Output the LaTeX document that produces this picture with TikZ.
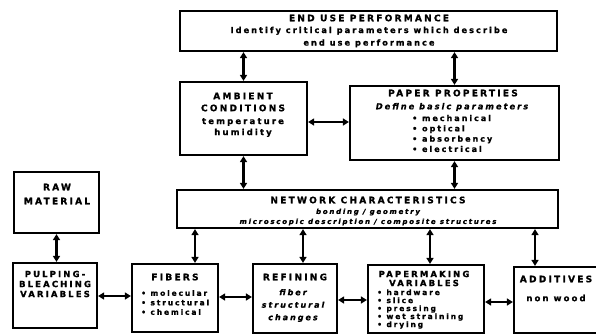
\documentclass[tikz,border=0pt]{standalone}
\usepackage{fontspec}
\setmainfont{DejaVu Sans}[LetterSpace=25, BoldFeatures={FakeBold=1.2}, BoldItalicFeatures={FakeBold=1.2}]
\usetikzlibrary{arrows.meta}
\begin{document}
\begin{tikzpicture}[x=1pt,y=-1pt,
  box/.style 2 args={draw, line width=2.2pt, inner sep=0pt, minimum width=#1pt, minimum height=#2pt},
  link/.style={{Triangle[length=6pt,width=7pt]}-{Triangle[length=6pt,width=7pt]}, line width=2.2pt},
  ttl/.style={font=\fontsize{9}{12}\selectfont\bfseries, align=center, inner sep=0pt},
  sb/.style={font=\fontsize{8.5}{11}\selectfont\bfseries, align=center, inner sep=0pt},
  si/.style={font=\fontsize{8.5}{11}\selectfont\bfseries\itshape, align=center, inner sep=0pt},
  lst/.style={font=\fontsize{7.5}{9.5}\selectfont\bfseries, align=left, anchor=west, inner sep=0pt}
]
\useasboundingbox (0,0) rectangle (596,335);
% boxes
\node[box={377}{40}] (top) at (368.5,31) {};
\node[box={127}{73}] (amb) at (243.5,118.5) {};
\node[box={209}{74}] (pap) at (454.5,123) {};
\node[box={381}{38}] (net) at (367.5,209) {};
\node[box={85}{61}] (raw) at (56.5,202.5) {};
\node[box={84}{65}] (pulp) at (55,295.5) {};
\node[box={86}{68}] (fib) at (175,298) {};
\node[box={84}{69}] (ref) at (295,298.5) {};
\node[box={116}{68}] (pm) at (426,299) {};
\node[box={96}{66}] (add) at (562,300) {};
% texts
\node[ttl, font=\fontsize{9}{12}\selectfont\bfseries] (t1) at (369,18) {END USE PERFORMANCE};
\node[sb, font=\fontsize{8.2}{12.5}\selectfont\bfseries] (t2) at (369,37) {Identify critical parameters which describe\\end use performance};
\node[ttl, font=\fontsize{9}{12}\selectfont\bfseries] (a1) at (243,102) {AMBIENT\\CONDITIONS};
\node[sb] (a2) at (243,127.5) {temperature\\humidity};
\node[ttl] (p1) at (453,93) {PAPER PROPERTIES};
\node[si, font=\fontsize{8.2}{11}\selectfont\bfseries\itshape] (p2) at (452,107) {Define basic parameters};
\node[lst, font=\fontsize{8}{10.3}\selectfont\bfseries] (p3) at (412,133.5) {• mechanical\\• optical\\• absorbency\\• electrical};
\node[ttl] (n1) at (368,200) {NETWORK CHARACTERISTICS};
\node[si, font=\fontsize{7}{10}\selectfont\bfseries\itshape] (n2) at (368,217) {bonding / geometry\\microscopic description / composite structures};
\node[ttl, font=\fontsize{9}{14}\selectfont\bfseries] (r1) at (57,194) {RAW\\MATERIAL};
\node[ttl, font=\fontsize{8.5}{10}\selectfont\bfseries] (u1) at (55,284) {PULPING-\\BLEACHING\\VARIABLES};
\node[ttl] (f1) at (175,277) {FIBERS};
\node[lst] (f2) at (141,302.5) {• molecular\\• structural\\• chemical};
\node[ttl] (e1) at (295,277) {REFINING};
\node[si, font=\fontsize{8}{12.5}\selectfont\bfseries\itshape] (e2) at (293,305.5) {fiber\\structural\\changes};
\node[ttl, font=\fontsize{8.5}{9}\selectfont\bfseries] (m1) at (424,278.5) {PAPERMAKING\\VARIABLES};
\node[lst, font=\fontsize{7.5}{8}\selectfont\bfseries] (m2) at (377,309) {• hardware\\• slice\\• pressing\\• wet straining\\• drying};
\node[ttl] (d1) at (556,279) {ADDITIVES};
\node[sb] (d2) at (556,298) {non wood};
% connectors
\draw[link] (amb.north) -- (amb.north |- top.south);
\draw[link] (pap.north) -- (pap.north |- top.south);
\draw[link] (amb.east |- 0,122) -- (pap.west |- 0,122);
\draw[link] (amb.south) -- (amb.south |- net.north);
\draw[link] (pap.south) -- (pap.south |- net.north);
\draw[link] (raw.south) -- (raw.south |- pulp.north);
\draw[link] (pulp.east |- 0,296) -- (fib.west |- 0,296);
\draw[link] (fib.north -| 195,0) -- (net.south -| 195,0);
\draw[link] (fib.east |- 0,297) -- (ref.west |- 0,297);
\draw[link] (ref.north -| 303,0) -- (net.south -| 303,0);
\draw[link] (ref.east |- 0,300) -- (pm.west |- 0,300);
\draw[link] (pm.north -| 430,0) -- (net.south -| 430,0);
\draw[link] (pm.east |- 0,302) -- (add.west |- 0,302);
\draw[link] (add.north -| 535,0) -- (net.south -| 535,0);
\end{tikzpicture}
\end{document}
